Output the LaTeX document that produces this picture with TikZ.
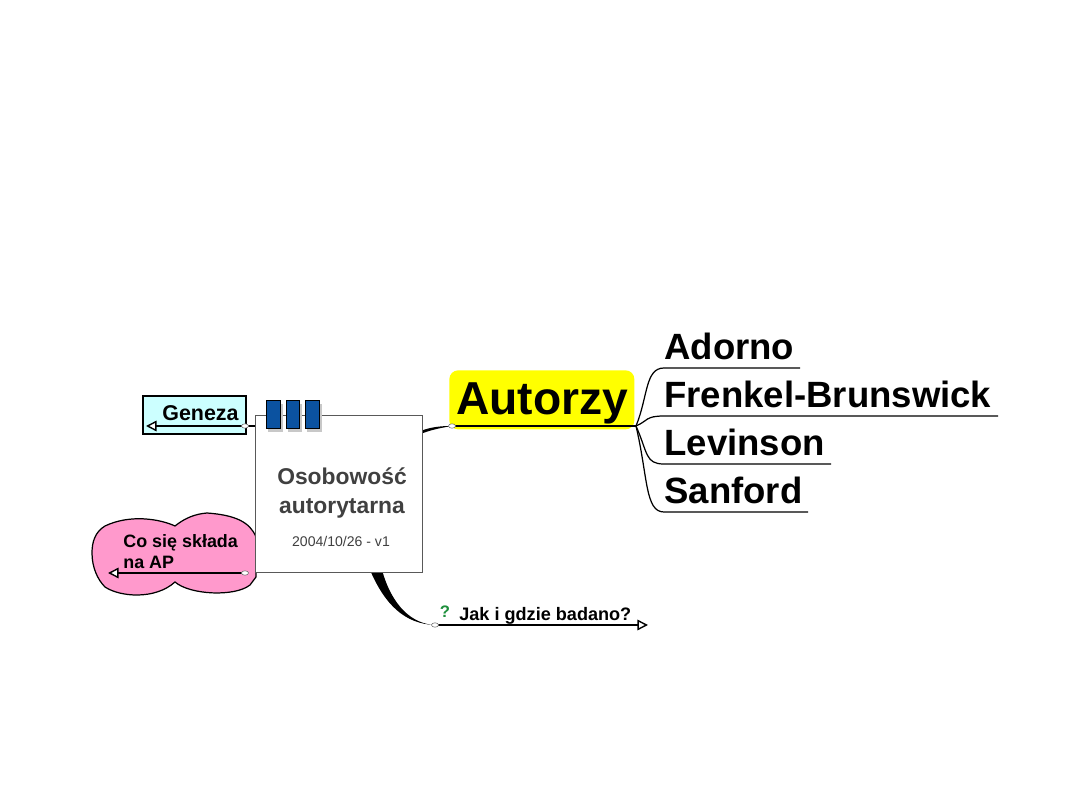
\documentclass[tikz,border=0pt]{standalone}
\usepackage{fontspec}
\setmainfont{Liberation Sans}
\usepackage{xcolor}
\usetikzlibrary{calc,arrows.meta,shapes.geometric}
\definecolor{tabblue}{HTML}{0B52A0}
\definecolor{tabshade}{HTML}{C8C8C8}
\definecolor{cloudpink}{HTML}{FF99CC}
\definecolor{boxcyan}{HTML}{CCFFFF}
\definecolor{marky}{HTML}{1E8F3C}
\definecolor{titlegray}{HTML}{404040}
\definecolor{highlight}{HTML}{FFFF00}
\tikzset{
  topic/.style={font=\fontsize{#1}{#1}\selectfont\bfseries,inner sep=0pt,anchor=base west},
  branch/.style={draw=black,line width=0.7pt},
  openarrow/.style={-{Triangle[open,length=6pt,width=6pt,fill=white]},line width=0.8pt},
  joint/.style={ellipse,draw=black!60,fill=white,line width=0.3pt,inner sep=0pt,minimum width=4pt,minimum height=2.5pt}
}
\begin{document}
\begin{tikzpicture}[x=0.02cm,y=-0.02cm]
\useasboundingbox (0,0) rectangle (1080,810);
% links out of the centre, under the box
\coordinate (hub) at (636,426);
\coordinate (autorzyjoint) at (452,426);
\coordinate (badanojoint) at (435,625);
\fill[black] (418,432) .. controls (430,427) and (440,426) .. (autorzyjoint) .. controls (440,428) and (430,430) .. (418,435) -- cycle;
\fill[black] (370,570) .. controls (385,605) and (405,624) .. (badanojoint) .. controls (412,624) and (392,606) .. (382,570) -- cycle;
% pink cloud
\draw[fill=cloudpink,line width=0.7pt] (175,526) .. controls (160,519) and (130,514) .. (105,526)
  .. controls (95,532) and (92,542) .. (92,553) .. controls (92,568) and (98,580) .. (105,587)
  .. controls (120,597) and (155,600) .. (175,582) .. controls (190,595) and (235,597) .. (250,585)
  -- (256,577) -- (256,537) .. controls (250,522) and (235,515) .. (207,513) .. controls (195,514) and (185,518) .. (175,526) -- cycle;
\node[font=\fontsize{10.2}{12.2}\selectfont\bfseries,align=left,anchor=north west,inner sep=0pt] (skladnik) at (123,534) {Co się składa\\na AP};
% Geneza box
\draw[fill=boxcyan,line width=0.8pt] (143,396) rectangle (246,434);
\node[topic=12.2] (geneza) at (162,421) {Geneza};
% centre box and its tabs
\node[draw=black!65,fill=white,line width=0.5pt,minimum width=95pt,minimum height=89.4pt,inner sep=0pt,anchor=north west] (centre) at (255,415) {};
\foreach \xa/\xb in {266/280,286/299,305/319}{
  \fill[tabshade] (\xa+2,404) rectangle (\xb+3,432);
  \draw[fill=tabblue,line width=0.3pt] (\xa,400) rectangle (\xb,428);}
\node[font=\fontsize{13}{16}\selectfont\bfseries,text=titlegray,align=center] (title) at (342,493) {Osobowość\\autorytarna};
\node[font=\fontsize{8}{8}\selectfont,text=titlegray] (stamp) at (341,541) {2004/10/26 - v1};
% Autorzy
\node[fill=highlight,rounded corners=5pt,minimum width=105.3pt,minimum height=33.6pt,inner sep=0pt,anchor=north west] (autorzy) at (449,370) {};
\node[topic=26.3] (autorzylabel) at (456,415) {Autorzy};
\draw[line width=1.3pt] (autorzyjoint) -- (hub);
\node[joint] at (autorzyjoint) {};
% the four authors
\foreach \nm/\yl/\xe in {Adorno/368/800,Frenkel-Brunswick/416/998,Levinson/464/831,Sanford/512/808}{
  \node[topic=20.8] (\nm) at (664,\yl-8) {\nm};
  \coordinate (\nm end) at (\xe,\yl);
  \draw[branch] (hub) .. controls (648,{(426+\yl)/2+8*(\yl>426)}) and (645,\yl) .. (664,\yl) -- (\nm end);}
% left and lower branches
\coordinate (genezatip) at (146,426);
\coordinate (genezajoint) at (245,426);
\coordinate (skladtip) at (108,573);
\coordinate (skladjoint) at (245,573);
\coordinate (badanotip) at (648,625);
\draw[line width=0.9pt] (genezajoint) -- (centre.west |- genezajoint);
\draw[openarrow] (genezajoint) -- (genezatip);
\draw[openarrow] (skladjoint) -- (skladtip);
\draw[openarrow] (badanojoint) -- (badanotip);
\foreach \jt in {genezajoint,skladjoint,badanojoint}{
  \node[joint] at (\jt) {};}
\node[font=\fontsize{9.5}{9.5}\selectfont\bfseries,text=marky,anchor=base] (mark) at (445,618) {?};
\node[topic=10.3] (badano) at (459,621) {Jak i gdzie badano?};
\end{tikzpicture}
\end{document}
